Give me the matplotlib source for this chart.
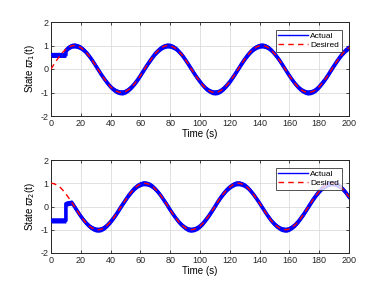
import numpy as np
import matplotlib.pyplot as plt

# time grid (s)
t = np.arange(0, 201, 2)

# desired trajectories
des1 = [0.00, 0.20, 0.39, 0.56, 0.72, 0.84, 0.93, 0.99, 1.00, 0.97,
        0.91, 0.81, 0.68, 0.52, 0.34, 0.14, -0.06, -0.26, -0.44, -0.61,
        -0.76, -0.87, -0.95, -0.99, -1.00, -0.96, -0.88, -0.77, -0.63, -0.47,
        -0.28, -0.08, 0.12, 0.31, 0.49, 0.66, 0.79, 0.90, 0.97, 1.00,
        0.99, 0.94, 0.86, 0.73, 0.59, 0.41, 0.22, 0.02, -0.18, -0.37,
        -0.54, -0.70, -0.83, -0.92, -0.98, -1.00, -0.98, -0.92, -0.82, -0.69,
        -0.54, -0.36, -0.17, 0.03, 0.23, 0.42, 0.59, 0.74, 0.86, 0.94,
        0.99, 1.00, 0.97, 0.90, 0.79, 0.65, 0.49, 0.31, 0.11, -0.09,
        -0.29, -0.47, -0.64, -0.78, -0.89, -0.96, -1.00, -0.99, -0.95, -0.87,
        -0.75, -0.60, -0.44, -0.25, -0.05, 0.15, 0.34, 0.52, 0.68, 0.81,
        0.91]
des2 = [1.00, 0.98, 0.92, 0.83, 0.70, 0.54, 0.36, 0.17, -0.03, -0.23,
        -0.42, -0.59, -0.74, -0.86, -0.94, -0.99, -1.00, -0.97, -0.90, -0.79,
        -0.65, -0.49, -0.31, -0.11, 0.09, 0.28, 0.47, 0.63, 0.78, 0.89,
        0.96, 1.00, 0.99, 0.95, 0.87, 0.75, 0.61, 0.44, 0.25, 0.06,
        -0.15, -0.34, -0.52, -0.68, -0.81, -0.91, -0.98, -1.00, -0.98, -0.93,
        -0.84, -0.72, -0.56, -0.39, -0.20, 0.00, 0.21, 0.40, 0.57, 0.72,
        0.84, 0.93, 0.99, 1.00, 0.97, 0.91, 0.81, 0.67, 0.51, 0.33,
        0.14, -0.06, -0.26, -0.45, -0.62, -0.76, -0.87, -0.95, -0.99, -1.00,
        -0.96, -0.88, -0.78, -0.64, -0.47, -0.29, -0.09, 0.11, 0.31, 0.49,
        0.65, 0.79, 0.89, 0.96, 1.00, 0.99, 0.94, 0.86, 0.74, 0.59,
        0.41]

# actual response: initial segment before the controller kicks in
head1_t = [0, 10, 10, 12]
head1_x = [0.60, 0.60, 0.80, 0.92]
head2_t = [0, 10, 10, 12, 14]
head2_x = [-0.60, -0.60, 0.12, 0.15, 0.17]

band = 0.11  # half width of the chattering band

plt.rcParams['font.family'] = ['Liberation Sans', 'DejaVu Sans']
plt.rcParams['mathtext.fontset'] = 'dejavusans'
plt.rcParams['axes.unicode_minus'] = False

fig = plt.figure(figsize=(3.85, 2.93), dpi=100)
ax1 = fig.add_axes([51 / 385, 1 - 116 / 293, 298 / 385, 94 / 293])
ax2 = fig.add_axes([51 / 385, 1 - 253 / 293, 298 / 385, 93 / 293])

panels = [(ax1, des1, head1_t, head1_x, r'State $\varpi_1$(t)'),
          (ax2, des2, head2_t, head2_x, r'State $\varpi_2$(t)')]

for ax, des, ht, hx, ylab in panels:
    des = np.array(des)
    ta = np.concatenate([ht, t[t > ht[-1]]])
    xa = np.concatenate([hx, des[t > ht[-1]]])
    ax.fill_between(ta, xa - band, xa + band, color='b', lw=0, zorder=2)
    ax.plot(ta, xa, color='b', lw=2.6, label='Actual', zorder=3)
    ax.plot(t, des, color='r', ls='--', lw=1.0, dashes=(4, 3), label='Desired', zorder=4)
    ax.set_xlim(0, 200)
    ax.set_ylim(-2, 2)
    ax.set_xticks(np.arange(0, 201, 20))
    ax.set_yticks([-2, -1, 0, 1, 2])
    ax.grid(True, color='#dcdcdc', lw=0.6)
    ax.set_axisbelow(True)
    ax.tick_params(direction='in', labelsize=6.5, length=2.5, width=0.6, pad=2,
                   top=True, right=True, colors='#262626')
    for s in ax.spines.values():
        s.set_linewidth(0.7)
        s.set_color('#262626')
    ax.set_xlabel('Time (s)', fontsize=7, labelpad=1)
    ax.set_ylabel(ylab, fontsize=7, labelpad=2)
    leg = ax.legend(loc='upper right', fontsize=6, frameon=True, fancybox=False,
                    handlelength=3.5, borderpad=0.3, labelspacing=0.2,
                    handletextpad=0.3, borderaxespad=0.9)
    leg.get_frame().set_edgecolor('#262626')
    leg.get_frame().set_linewidth(0.7)
    leg.legend_handles[0].set_linewidth(1.0)

fig.savefig('out.png', dpi=100)
